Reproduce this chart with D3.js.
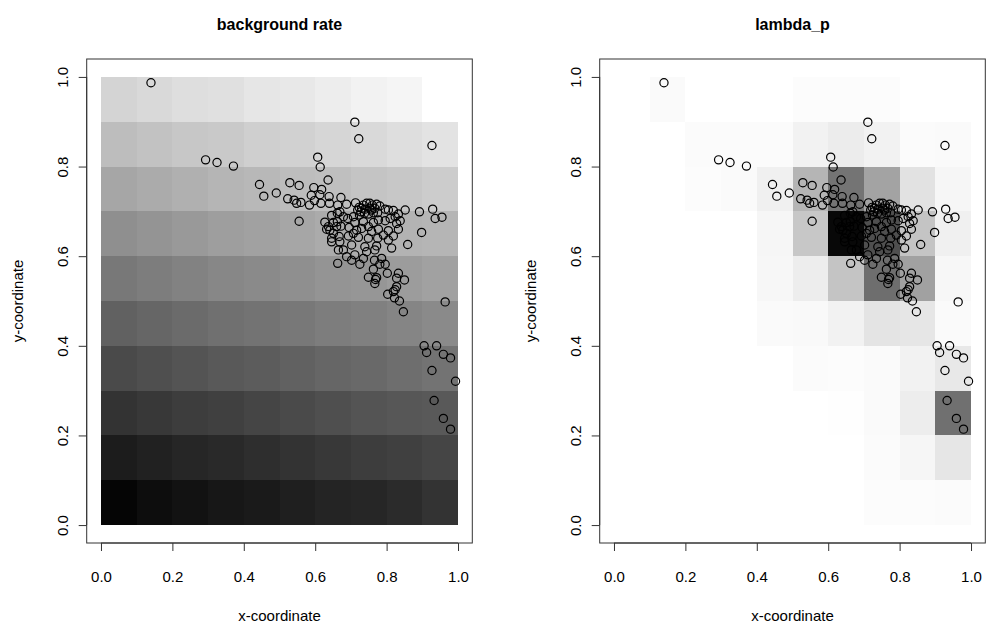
<!DOCTYPE html>
<html>
<head>
<meta charset="utf-8">
<script src="https://cdn.jsdelivr.net/npm/d3@7"></script>
<style>
  body { margin: 0; background: #fff; }
  text { font-family: "Liberation Sans", Arial, sans-serif; fill: #000; }
</style>
</head>
<body>
<svg class="chart"></svg>
<script>
const width = 986;
const height = 633;

// grid breaks and axis ticks
const breaks = [0, 0.1, 0.2, 0.3, 0.4, 0.5, 0.6, 0.7, 0.8, 0.9, 1.0];
const tickValues = [0, 0.2, 0.4, 0.6, 0.8, 1.0];
const tickLabels = ["0.0", "0.2", "0.4", "0.6", "0.8", "1.0"];

// background rate, rows from y=0 (bottom) to y=0.9 (top), columns x=0..0.9
const backgroundRate = [
  [0.98, 0.95, 0.93, 0.91, 0.90, 0.88, 0.86, 0.85, 0.83, 0.80],
  [0.89, 0.87, 0.85, 0.84, 0.82, 0.80, 0.78, 0.76, 0.75, 0.73],
  [0.80, 0.78, 0.76, 0.75, 0.73, 0.71, 0.69, 0.67, 0.66, 0.65],
  [0.71, 0.69, 0.67, 0.65, 0.64, 0.62, 0.60, 0.59, 0.57, 0.55],
  [0.62, 0.60, 0.58, 0.56, 0.55, 0.53, 0.51, 0.50, 0.48, 0.46],
  [0.53, 0.51, 0.49, 0.47, 0.46, 0.44, 0.42, 0.41, 0.39, 0.37],
  [0.44, 0.42, 0.40, 0.38, 0.37, 0.35, 0.33, 0.32, 0.30, 0.29],
  [0.35, 0.33, 0.31, 0.29, 0.28, 0.26, 0.25, 0.23, 0.22, 0.20],
  [0.26, 0.24, 0.22, 0.21, 0.19, 0.18, 0.16, 0.15, 0.13, 0.11],
  [0.17, 0.15, 0.13, 0.12, 0.10, 0.09, 0.07, 0.05, 0.04, null]
];

// lambda_p, same layout
const lambdaP = [
  [0, 0, 0, 0, 0, 0, 0, 0.01, 0.01, 0.015],
  [0, 0, 0, 0, 0, 0, 0, 0.015, 0.035, 0.10],
  [0, 0, 0, 0, 0, 0, 0.005, 0.02, 0.07, 0.56],
  [0, 0, 0, 0, 0, 0.015, 0.01, 0.02, 0.05, 0.09],
  [0, 0, 0, 0, 0.02, 0.025, 0.05, 0.105, 0.10, 0.02],
  [0, 0, 0, 0, 0.03, 0.07, 0.23, 0.57, 0.37, 0.03],
  [0, 0, 0, 0, 0.035, 0.22, 0.97, 0.69, 0.23, 0.06],
  [0, 0, 0.01, 0.02, 0.06, 0.29, 0.545, 0.36, 0.115, 0.035],
  [0, 0, 0.015, 0.015, 0.015, 0.05, 0.075, 0.05, 0.015, 0.02],
  [0, 0.02, 0, 0, 0, 0.01, 0.01, 0.01, 0, null]
];

// observed points
const pointsX = [
  0.140, 0.711, 0.722, 0.927, 0.293, 0.325, 0.371,
  0.607, 0.614, 0.636, 0.444, 0.456, 0.491, 0.529, 0.555, 0.523, 0.541, 0.548, 0.560, 0.584,
  0.596, 0.618, 0.589, 0.613, 0.598, 0.616, 0.639, 0.640, 0.555,
  0.672, 0.663, 0.688, 0.669, 0.713, 0.723, 0.719, 0.728, 0.735, 0.744, 0.753, 0.760, 0.772,
  0.781, 0.738, 0.749, 0.763, 0.775, 0.796, 0.805, 0.819, 0.833, 0.852, 0.892, 0.929, 0.936, 0.955,
  0.646, 0.662, 0.627, 0.637, 0.651, 0.632, 0.641, 0.662, 0.651, 0.646, 0.646, 0.669,
  0.691, 0.711, 0.735, 0.763, 0.777, 0.796, 0.810, 0.824, 0.828, 0.838, 0.672, 0.695, 0.716,
  0.749, 0.777, 0.805, 0.833, 0.667, 0.693, 0.721, 0.749, 0.775, 0.805, 0.859, 0.898, 0.702,
  0.665, 0.679, 0.663, 0.702, 0.711, 0.725, 0.739, 0.744, 0.767, 0.772, 0.814, 0.766, 0.786,
  0.781, 0.796, 0.763, 0.802, 0.749, 0.769, 0.767, 0.772, 0.828, 0.850, 0.833, 0.828, 0.824,
  0.819, 0.803, 0.822, 0.836, 0.847, 0.964,
  0.905, 0.912, 0.940, 0.959, 0.979, 0.927, 0.993, 0.933, 0.959, 0.979,
  0.730, 0.739, 0.752, 0.767, 0.758, 0.724, 0.707, 0.679, 0.660, 0.707, 0.730, 0.758, 0.791,
  0.819, 0.688, 0.735
];
const pointsY = [
  0.987, 0.899, 0.862, 0.847, 0.815, 0.809, 0.801,
  0.821, 0.799, 0.770, 0.760, 0.734, 0.741, 0.764, 0.758, 0.728, 0.725, 0.718, 0.720, 0.714,
  0.753, 0.749, 0.736, 0.737, 0.724, 0.718, 0.733, 0.718, 0.678,
  0.731, 0.714, 0.716, 0.699, 0.719, 0.709, 0.703, 0.699, 0.714, 0.718, 0.718, 0.714, 0.716,
  0.712, 0.696, 0.694, 0.697, 0.697, 0.705, 0.703, 0.702, 0.694, 0.703, 0.699, 0.705, 0.684, 0.687,
  0.691, 0.696, 0.676, 0.666, 0.675, 0.660, 0.658, 0.677, 0.651, 0.640, 0.632, 0.632,
  0.684, 0.675, 0.677, 0.675, 0.681, 0.679, 0.684, 0.688, 0.673, 0.679, 0.667, 0.664, 0.658,
  0.666, 0.660, 0.657, 0.660, 0.644, 0.645, 0.642, 0.640, 0.640, 0.636, 0.626, 0.653, 0.625,
  0.614, 0.614, 0.584, 0.591, 0.603, 0.582, 0.621, 0.610, 0.614, 0.623, 0.618, 0.591, 0.595,
  0.582, 0.582, 0.571, 0.562, 0.553, 0.548, 0.539, 0.552, 0.551, 0.547, 0.562, 0.532, 0.525,
  0.521, 0.515, 0.507, 0.500, 0.476, 0.498,
  0.400, 0.385, 0.400, 0.381, 0.373, 0.345, 0.321, 0.278, 0.238, 0.214,
  0.707, 0.705, 0.707, 0.707, 0.703, 0.692, 0.688, 0.688, 0.666, 0.651, 0.662, 0.655, 0.647,
  0.645, 0.599, 0.595
];

const points = pointsX.map((x, i) => ({ x: x, y: pointsY[i] }));

const svg = d3.select(".chart").attr("width", width).attr("height", height);

const gray = d3.scaleLinear().domain([0, 1]).range(["#ffffff", "#000000"]);

const yScale = d3.scaleLinear().domain([-0.04, 1.04]).range([543, 59]);

function drawPanel(offset, title, values) {
  const xScale = d3
    .scaleLinear()
    .domain([-0.04, 1.04])
    .range([86.7 + offset, 472.3 + offset]);

  const g = svg.append("g");

  const cells = [];
  values.forEach((row, r) => {
    row.forEach((v, c) => {
      if (v !== null) cells.push({ r: r, c: c, v: v });
    });
  });

  g.selectAll("rect.cell")
    .data(cells)
    .enter()
    .append("rect")
    .attr("class", "cell")
    .attr("x", (d) => xScale(breaks[d.c]))
    .attr("y", (d) => yScale(breaks[d.r + 1]))
    .attr("width", (d) => xScale(breaks[d.c + 1]) - xScale(breaks[d.c]))
    .attr("height", (d) => yScale(breaks[d.r]) - yScale(breaks[d.r + 1]))
    .attr("fill", (d) => gray(d.v))
    .attr("shape-rendering", "crispEdges");

  g.selectAll("circle")
    .data(points)
    .enter()
    .append("circle")
    .attr("cx", (d) => xScale(d.x))
    .attr("cy", (d) => yScale(d.y))
    .attr("r", 4.1)
    .attr("fill", "none")
    .attr("stroke", "#000")
    .attr("stroke-width", 1.2);

  // box
  g.append("rect")
    .attr("x", xScale.range()[0])
    .attr("y", yScale.range()[1])
    .attr("width", xScale.range()[1] - xScale.range()[0])
    .attr("height", yScale.range()[0] - yScale.range()[1])
    .attr("fill", "none")
    .attr("stroke", "#333")
    .attr("stroke-width", 1);

  // x axis
  const xAxis = g.append("g").attr("transform", `translate(0,${yScale.range()[0]})`);
  xAxis
    .call(d3.axisBottom(xScale).tickValues(tickValues).tickFormat((d, i) => tickLabels[i]).tickSize(8).tickPadding(20))
    .call((a) => a.select(".domain").attr("d", `M${xScale(0)},0H${xScale(1)}`).attr("stroke", "#333"));
  xAxis.selectAll(".tick line").attr("stroke", "#333");
  xAxis.selectAll(".tick text").style("font-size", "15px").attr("fill", "#000");

  // y axis
  const yAxis = g.append("g").attr("transform", `translate(${xScale.range()[0]},0)`);
  yAxis
    .call(d3.axisLeft(yScale).tickValues(tickValues).tickFormat((d, i) => tickLabels[i]).tickSize(8))
    .call((a) => a.select(".domain").attr("d", `M0,${yScale(0)}V${yScale(1)}`).attr("stroke", "#333"));
  yAxis.selectAll(".tick line").attr("stroke", "#333");
  yAxis
    .selectAll(".tick text")
    .style("font-size", "15px")
    .attr("fill", "#000")
    .attr("x", null)
    .attr("dy", null)
    .attr("text-anchor", "middle")
    .attr("transform", "translate(-19,0) rotate(-90)");

  g.append("text")
    .attr("x", (xScale.range()[0] + xScale.range()[1]) / 2)
    .attr("y", 30)
    .attr("text-anchor", "middle")
    .style("font-size", "16px")
    .style("font-weight", "bold")
    .text(title);

  g.append("text")
    .attr("x", (xScale.range()[0] + xScale.range()[1]) / 2)
    .attr("y", 621)
    .attr("text-anchor", "middle")
    .style("font-size", "15px")
    .text("x-coordinate");

  g.append("text")
    .attr("transform", `translate(${23 + offset},${(yScale.range()[0] + yScale.range()[1]) / 2}) rotate(-90)`)
    .attr("text-anchor", "middle")
    .style("font-size", "15px")
    .text("y-coordinate");
}

drawPanel(0, "background rate", backgroundRate);
drawPanel(513, "lambda_p", lambdaP);
</script>
</body>
</html>
